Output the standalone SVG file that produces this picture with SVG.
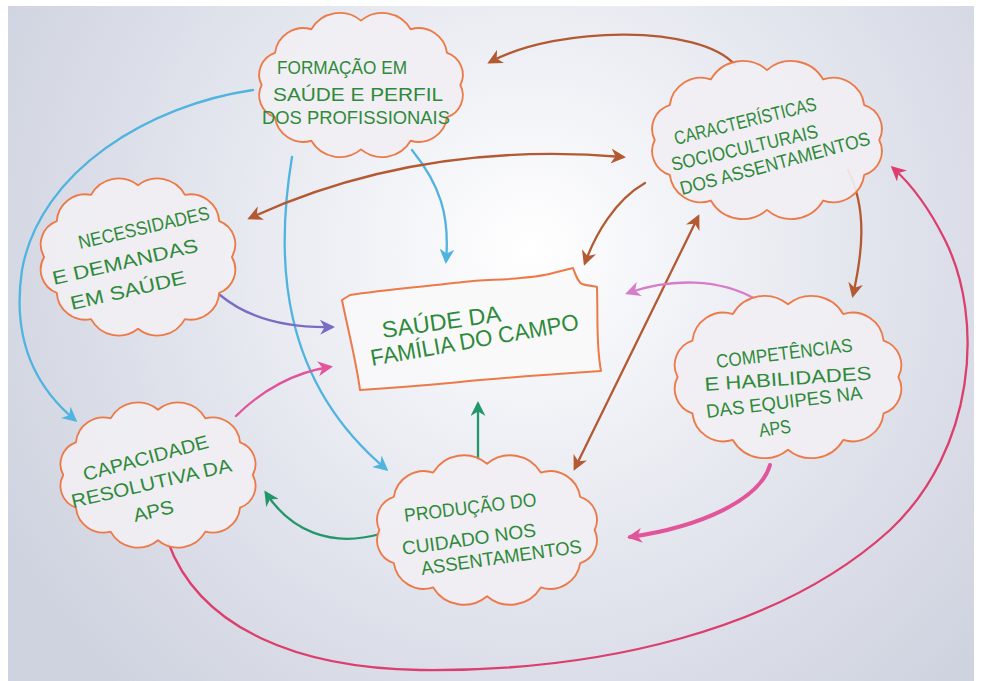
<svg xmlns="http://www.w3.org/2000/svg" width="982" height="681" viewBox="0 0 982 681">
<defs>
<radialGradient id="paper" cx="530" cy="250" r="600" gradientUnits="userSpaceOnUse">
<stop offset="0" stop-color="#ffffff"/>
<stop offset="0.3" stop-color="#f0f1f6"/>
<stop offset="0.7" stop-color="#dcdfe9"/>
<stop offset="1" stop-color="#cfd3df"/>
</radialGradient>
<marker id="mBlue" viewBox="0 0 10 10" refX="8" refY="5" markerWidth="15" markerHeight="15" markerUnits="userSpaceOnUse" orient="auto-start-reverse"><path d="M0,0 L10,5 L0,10 L3,5 Z" fill="#4fb4e0"/></marker>
<marker id="mBrown" viewBox="0 0 10 10" refX="8" refY="5" markerWidth="15" markerHeight="15" markerUnits="userSpaceOnUse" orient="auto-start-reverse"><path d="M0,0 L10,5 L0,10 L3,5 Z" fill="#b35a32"/></marker>
<marker id="mPurple" viewBox="0 0 10 10" refX="8" refY="5" markerWidth="15" markerHeight="15" markerUnits="userSpaceOnUse" orient="auto-start-reverse"><path d="M0,0 L10,5 L0,10 L3,5 Z" fill="#7a6cc4"/></marker>
<marker id="mPink" viewBox="0 0 10 10" refX="8" refY="5" markerWidth="15" markerHeight="15" markerUnits="userSpaceOnUse" orient="auto-start-reverse"><path d="M0,0 L10,5 L0,10 L3,5 Z" fill="#e2559a"/></marker>
<marker id="mViolet" viewBox="0 0 10 10" refX="8" refY="5" markerWidth="15" markerHeight="15" markerUnits="userSpaceOnUse" orient="auto-start-reverse"><path d="M0,0 L10,5 L0,10 L3,5 Z" fill="#d77cc9"/></marker>
<marker id="mRed" viewBox="0 0 10 10" refX="8" refY="5" markerWidth="15" markerHeight="15" markerUnits="userSpaceOnUse" orient="auto-start-reverse"><path d="M0,0 L10,5 L0,10 L3,5 Z" fill="#dc3e6e"/></marker>
<marker id="mGreen" viewBox="0 0 10 10" refX="8" refY="5" markerWidth="15" markerHeight="15" markerUnits="userSpaceOnUse" orient="auto-start-reverse"><path d="M0,0 L10,5 L0,10 L3,5 Z" fill="#23976a"/></marker>
</defs>
<style>
.cloud{fill:#f1eff3;fill-opacity:0.92;stroke:#ec7a48;stroke-width:2;stroke-linejoin:round}
.lbl{font-family:"Liberation Sans",Arial,sans-serif;fill:#2e8a3a;font-size:19px}
.big{font-size:23px}
.c{fill:none;stroke-width:2.3;stroke-linecap:round}
.blue{stroke:#4fb4e0;marker-end:url(#mBlue)}
.brown{stroke:#b35a32;marker-end:url(#mBrown)}
.purple{stroke:#7a6cc4;marker-end:url(#mPurple)}
.pink{stroke:#e2559a;marker-end:url(#mPink)}
.violet{stroke:#d77cc9;marker-end:url(#mViolet)}
.red{stroke:#dc3e6e;marker-end:url(#mRed)}
.green{stroke:#23976a;marker-end:url(#mGreen)}
</style>
<rect x="0" y="0" width="982" height="681" fill="#ffffff"/>
<rect x="8" y="6" width="966" height="675" fill="url(#paper)"/>

<g id="connectors">
<path class="c blue" d="M253,90 C150,105 40,170 22,270 C10,350 45,395 75,420"/>
<path class="c blue" d="M292,157 C275,260 280,380 386,469"/>
<path class="c blue" d="M412,150 C440,185 450,215 446,261"/>
<path class="c brown" d="M735,65 C700,25 560,25 490,62"/>
<path class="c brown" style="marker-start:url(#mBrown)" d="M250,218 Q420,140 623,157"/>
<path class="c brown" d="M645,183 C615,200 595,235 585,263"/>
<path class="c brown" d="M848,170 C868,210 862,255 853,295"/>
<path class="c brown" style="marker-start:url(#mBrown)" d="M575,468 L698,217"/>
<path class="c purple" d="M220,295 C250,320 290,328 332,327"/>
<path class="c pink" d="M236,416 C262,390 295,372 330,367"/>
<path class="c violet" d="M757,300 C720,278 670,278 628,293"/>
<path class="c pink" style="stroke-width:4" d="M770,465 C760,500 700,527 630,537"/>
<path class="c red" d="M168,542 C200,630 300,668 420,670 C600,672 780,630 890,530 C975,450 985,320 945,240 C930,210 912,185 893,168"/>
<path class="c green" d="M478,460 L478,404"/>
<path class="c green" d="M380,534 C330,548 290,530 266,493"/>
</g>

<g id="formacao">
<path class="cloud" transform="matrix(0.92,0,0,0.92,28.88,6.8)" d="M469,85 A25,25 0 0 1 454.5,120 A31,31 0 0 1 415,145.6 A36,36 0 0 1 361,155 A36,36 0 0 1 307,145.6 A31,31 0 0 1 267.5,120 A25,25 0 0 1 253,85 A25,25 0 0 1 267.5,50 A31,31 0 0 1 307,24.4 A36,36 0 0 1 361,15 A36,36 0 0 1 415,24.4 A31,31 0 0 1 454.5,50 A25,25 0 0 1 469,85 Z"/>
<text class="lbl" x="277" y="74" textLength="130" lengthAdjust="spacingAndGlyphs">FORMAÇÃO EM</text>
<text class="lbl" x="273" y="101" textLength="170" lengthAdjust="spacingAndGlyphs">SAÚDE E PERFIL</text>
<text class="lbl" x="262" y="124" textLength="188" lengthAdjust="spacingAndGlyphs">DOS PROFISSIONAIS</text>
</g>

<g id="caracteristicas">
<path class="cloud" transform="matrix(0.92,0,0,0.92,61.36,11.2)" d="M889,140 A27,27 0 0 1 872.7,178 A34,34 0 0 1 828,205.8 A40,40 0 0 1 767,216 A40,40 0 0 1 706,205.8 A34,34 0 0 1 661.3,178 A27,27 0 0 1 645,140 A27,27 0 0 1 661.3,102 A34,34 0 0 1 706,74.2 A40,40 0 0 1 767,64 A40,40 0 0 1 828,74.2 A34,34 0 0 1 872.7,102 A27,27 0 0 1 889,140 Z"/>
<text class="lbl" x="676" y="145" transform="rotate(-14 676 145)" textLength="146" lengthAdjust="spacingAndGlyphs">CARACTERÍSTICAS</text>
<text class="lbl" x="673" y="171" transform="rotate(-13 673 171)" textLength="150" lengthAdjust="spacingAndGlyphs">SOCIOCULTURAIS</text>
<text class="lbl" x="682" y="195" transform="rotate(-15 682 195)" textLength="196" lengthAdjust="spacingAndGlyphs">DOS ASSENTAMENTOS</text>
</g>

<g id="necessidades">
<path class="cloud" transform="matrix(0.92,0,0,0.92,11.04,20.56)" d="M240,257 A27,27 0 0 1 226.3,296 A31,31 0 0 1 189,324.5 A34,34 0 0 1 138,335 A34,34 0 0 1 87,324.5 A31,31 0 0 1 49.7,296 A27,27 0 0 1 36,257 A27,27 0 0 1 49.7,218 A31,31 0 0 1 87,189.5 A34,34 0 0 1 138,179 A34,34 0 0 1 189,189.5 A31,31 0 0 1 226.3,218 A27,27 0 0 1 240,257 Z"/>
<text class="lbl" x="80" y="249" transform="rotate(-13 80 249)" textLength="134" lengthAdjust="spacingAndGlyphs">NECESSIDADES</text>
<text class="lbl" x="54" y="285" transform="rotate(-13 54 285)" textLength="149" lengthAdjust="spacingAndGlyphs">E DEMANDAS</text>
<text class="lbl" x="72" y="310" transform="rotate(-13 72 310)" textLength="118" lengthAdjust="spacingAndGlyphs">EM SAÚDE</text>
</g>

<g id="saude-familia-campo">
<path class="cloud" style="fill:#f8f8fa" d="M342,300 L350,295 C380,290 430,286 463,282 C490,279 530,280 553,273 L573,268 C576,276 578,282 582,284 C588,286 594,286 597,287 C598,320 596,345 601,371 C555,374 500,378 460,382 C420,386 390,388 360,390 C356,360 348,330 342,300 Z"/>
<text class="lbl big" x="383" y="338" transform="rotate(-8 383 338)" textLength="120" lengthAdjust="spacingAndGlyphs">SAÚDE DA</text>
<text class="lbl big" x="372" y="366" transform="rotate(-10 372 366)" textLength="211" lengthAdjust="spacingAndGlyphs">FAMÍLIA DO CAMPO</text>
</g>

<g id="competencias">
<path class="cloud" transform="matrix(0.92,0,0,0.92,63.04,30.16)" d="M908,377 A28,28 0 0 1 891.9,416.5 A34,34 0 0 1 848,445.4 A40,40 0 0 1 788,456 A40,40 0 0 1 728,445.4 A34,34 0 0 1 684.1,416.5 A28,28 0 0 1 668,377 A28,28 0 0 1 684.1,337.5 A34,34 0 0 1 728,308.6 A40,40 0 0 1 788,298 A40,40 0 0 1 848,308.6 A34,34 0 0 1 891.9,337.5 A28,28 0 0 1 908,377 Z"/>
<text class="lbl" x="717" y="368" transform="rotate(-7 717 368)" textLength="137" lengthAdjust="spacingAndGlyphs">COMPETÊNCIAS</text>
<text class="lbl" x="705" y="391" transform="rotate(-4 705 391)" textLength="167" lengthAdjust="spacingAndGlyphs">E HABILIDADES</text>
<text class="lbl" x="707" y="418" transform="rotate(-7 707 418)" textLength="157" lengthAdjust="spacingAndGlyphs">DAS EQUIPES NA</text>
<text class="lbl" x="760" y="437" transform="rotate(-8 760 437)" textLength="32" lengthAdjust="spacingAndGlyphs">APS</text>
</g>

<g id="capacidade">
<path class="cloud" transform="matrix(0.92,0,0,0.92,12.64,38)" d="M261,475 A25,25 0 0 1 247.2,510.5 A30,30 0 0 1 209.5,536.5 A34,34 0 0 1 158,546 A34,34 0 0 1 106.5,536.5 A30,30 0 0 1 68.8,510.5 A25,25 0 0 1 55,475 A25,25 0 0 1 68.8,439.5 A30,30 0 0 1 106.5,413.5 A34,34 0 0 1 158,404 A34,34 0 0 1 209.5,413.5 A30,30 0 0 1 247.2,439.5 A25,25 0 0 1 261,475 Z"/>
<text class="lbl" x="85" y="481" transform="rotate(-15 85 481)" textLength="129" lengthAdjust="spacingAndGlyphs">CAPACIDADE</text>
<text class="lbl" x="73" y="508" transform="rotate(-13 73 508)" textLength="164" lengthAdjust="spacingAndGlyphs">RESOLUTIVA DA</text>
<text class="lbl" x="135" y="522" transform="rotate(-13 135 522)" textLength="41" lengthAdjust="spacingAndGlyphs">APS</text>
</g>

<g id="producao">
<path class="cloud" transform="matrix(0.92,0,0,0.92,38.96,42.4)" d="M604,530 A26,26 0 0 1 588.3,566 A33,33 0 0 1 545.5,592.4 A39,39 0 0 1 487,602 A39,39 0 0 1 428.5,592.4 A33,33 0 0 1 385.7,566 A26,26 0 0 1 370,530 A26,26 0 0 1 385.7,494 A33,33 0 0 1 428.5,467.6 A39,39 0 0 1 487,458 A39,39 0 0 1 545.5,467.6 A33,33 0 0 1 588.3,494 A26,26 0 0 1 604,530 Z"/>
<text class="lbl" x="405" y="522" transform="rotate(-7 405 522)" textLength="133" lengthAdjust="spacingAndGlyphs">PRODUÇÃO DO</text>
<text class="lbl" x="403" y="555" transform="rotate(-8 403 555)" textLength="135" lengthAdjust="spacingAndGlyphs">CUIDADO NOS</text>
<text class="lbl" x="422" y="575" transform="rotate(-8 422 575)" textLength="162" lengthAdjust="spacingAndGlyphs">ASSENTAMENTOS</text>
</g>
</svg>
